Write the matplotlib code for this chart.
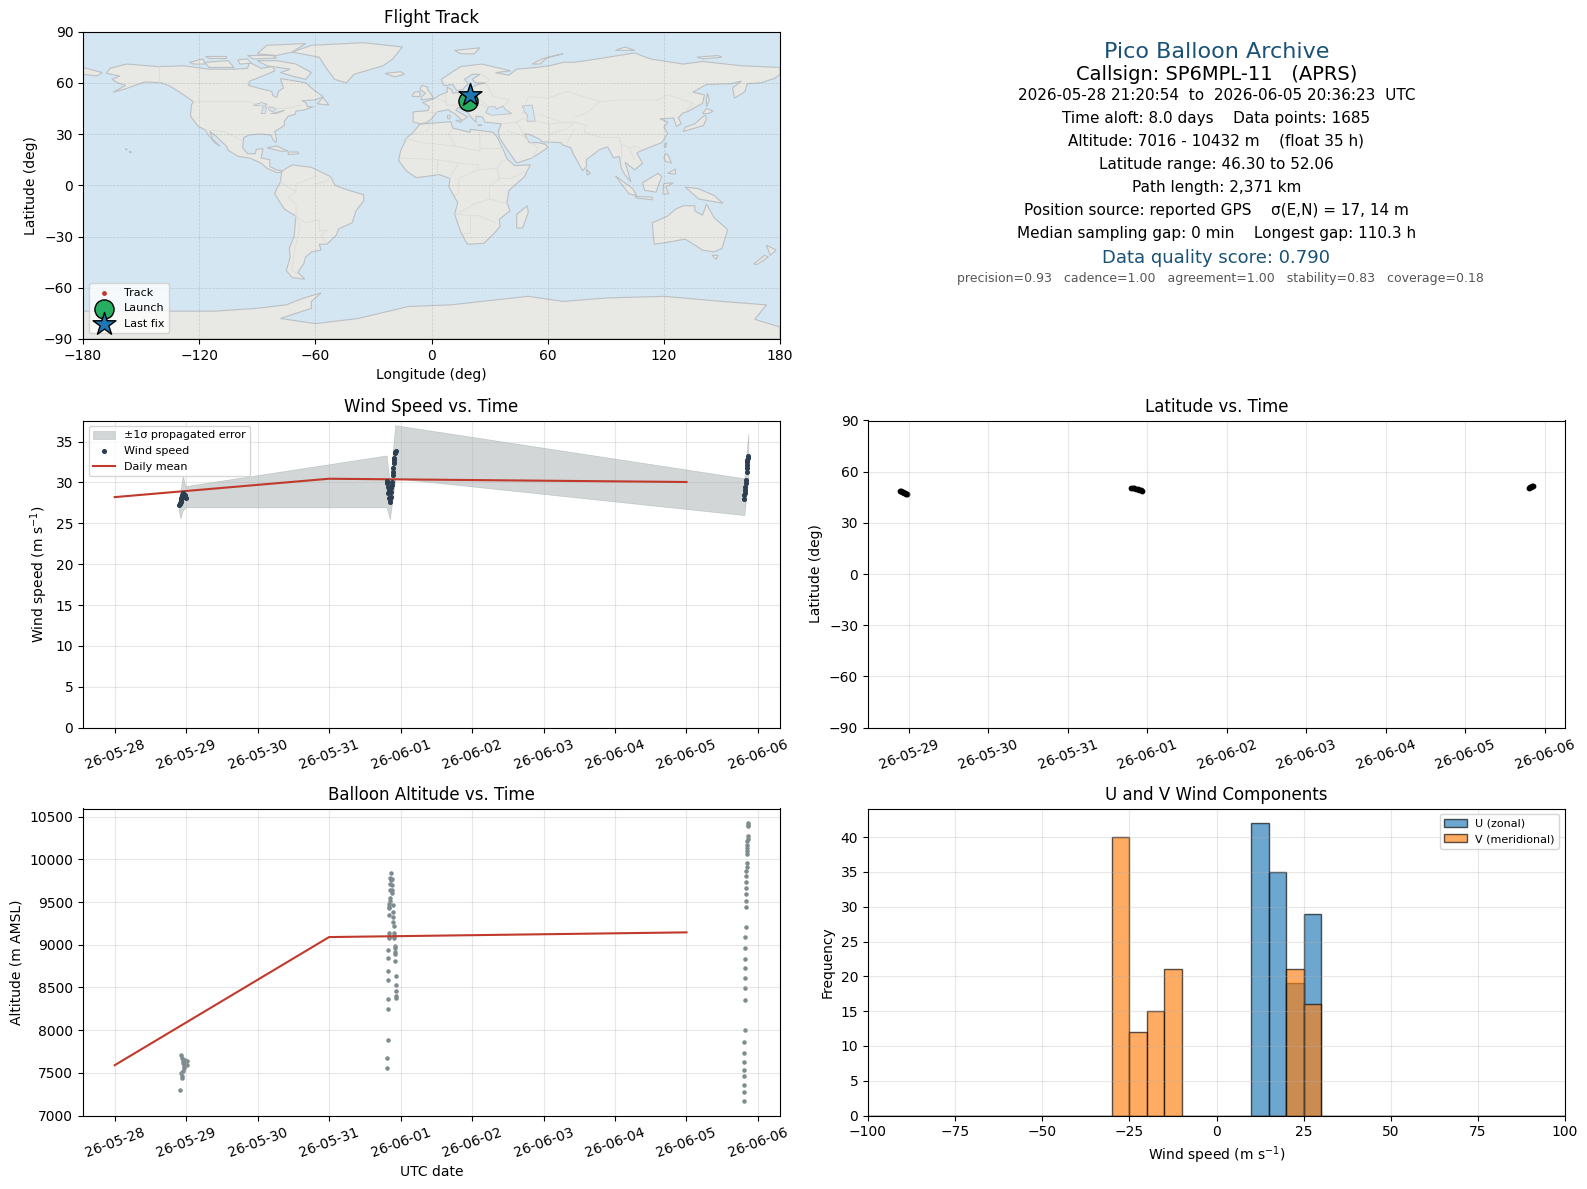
import matplotlib
matplotlib.use('Agg')
import matplotlib.pyplot as plt
import matplotlib.dates as mdates
import numpy as np

# Flight values, times are days after 2026-05-28 00:00 UTC
wind_days = [0.898, 0.907, 0.916, 0.921, 0.925, 0.930, 0.944, 0.949, 0.953, 0.963, 0.977, 1.000,
             3.804, 3.809, 3.818, 3.823, 3.832, 3.841, 3.850, 3.850, 3.864, 3.864, 3.869, 3.874,
             3.878, 3.888, 3.892, 3.897, 3.902, 3.906, 3.911, 3.920, 3.925, 3.930,
             8.800, 8.809, 8.814, 8.818, 8.823, 8.832, 8.837, 8.842, 8.842, 8.846, 8.846, 8.851, 8.860, 8.865]
wind_speed = [27.28, 27.44, 27.36, 27.85, 27.64, 28.05, 28.46, 28.17, 28.66, 28.25, 28.46, 28.13,
              30.16, 29.88, 29.39, 28.66, 29.07, 28.05, 27.64, 27.93, 29.27, 28.86, 28.25, 29.67,
              30.08, 30.89, 31.30, 31.71, 32.32, 32.72, 32.93, 33.54, 33.74, 33.86,
              27.97, 28.46, 28.74, 29.07, 29.47, 29.88, 30.28, 31.30, 31.71, 32.11, 32.52, 32.72, 32.93, 33.21]

band_days = [0.898, 0.921, 0.953, 0.991, 3.804, 3.850, 3.925, 8.809, 8.865]
band_low = [26.5, 25.6, 26.6, 26.95, 26.95, 25.5, 30.5, 26.0, 30.4]
band_high = [28.0, 29.0, 30.8, 29.55, 33.3, 29.8, 37.0, 30.5, 36.0]

mean_days = [0, 3, 8]
mean_wind = [28.2, 30.45, 30.05]
mean_alt = [7590, 9090, 9145]

alt_days = [0.907, 0.930, 0.935, 0.939, 0.930, 0.944, 0.949, 0.953, 0.953, 0.963, 0.967, 0.977, 0.977, 1.009, 1.009,
            3.860, 3.874, 3.851, 3.865, 3.851, 3.879, 3.856, 3.879, 3.874, 3.851, 3.851, 3.837, 3.888, 3.837, 3.837,
            3.832, 3.888, 3.888, 3.888, 3.902, 3.832, 3.832, 3.832, 3.902, 3.902, 3.902, 3.921, 3.921, 3.921, 3.921,
            3.818, 3.818, 3.916, 3.818, 3.930, 3.818, 3.930, 3.930, 3.930, 3.930, 3.818, 3.818, 3.818, 3.804, 3.804,
            8.865, 8.865, 8.865, 8.865, 8.865, 8.851, 8.851, 8.846, 8.846, 8.846, 8.851, 8.851, 8.837, 8.837, 8.837,
            8.837, 8.837, 8.837, 8.837, 8.837, 8.823, 8.823, 8.823, 8.823, 8.823, 8.823, 8.823, 8.823, 8.809, 8.809,
            8.809, 8.809, 8.809, 8.809, 8.809, 8.809]
alt_m = [7294, 7500, 7461, 7442, 7706, 7675, 7519, 7644, 7617, 7578, 7558, 7655, 7597, 7644, 7597,
         9835, 9765, 9777, 9754, 9707, 9695, 9641, 9637, 9606, 9552, 9509, 9474, 9462, 9447, 9431,
         9346, 9381, 9322, 9264, 9218, 9136, 9093, 9078, 9132, 9105, 9078, 8988, 8961, 8915, 8891,
         8938, 8845, 8810, 8693, 8635, 8588, 8530, 8460, 8402, 8378, 8367, 8250, 7889, 7679, 7563,
         10426, 10406, 10387, 10270, 10243, 10212, 10173, 10134, 10096, 10057, 9952, 9905, 9862, 9800, 9730,
         9660, 9590, 9509, 9439, 9206, 9089, 8961, 8833, 8728, 8612, 8495, 8355, 8005, 7866, 7737,
         7632, 7539, 7458, 7364, 7271, 7166]

lat_days = [0.889, 0.902, 0.915, 0.928, 0.941, 0.954, 0.967, 0.980,
            3.800, 3.820, 3.840, 3.860, 3.880, 3.900, 3.920, 3.935,
            8.800, 8.815, 8.830, 8.845, 8.858]
lat_deg = [48.7, 48.4, 48.2, 47.9, 47.7, 47.5, 47.2, 47.0,
           50.6, 50.4, 50.2, 50.0, 49.7, 49.4, 49.2, 48.9,
           50.6, 50.9, 51.1, 51.5, 51.9]

track_lon = [18.4, 18.0, 17.5, 19.0, 19.2]
track_lat = [49.0, 48.0, 50.0, 50.8, 52.0]
launch_lon, launch_lat = 19.0, 49.3
last_lon, last_lat = 19.8, 52.6

hist_left = np.arange(-100, 100, 5)
u_counts = {10: 42, 15: 35, 20: 19, 25: 29}
v_counts = {-30: 40, -25: 12, -20: 15, -15: 21, 20: 21, 25: 16}

info_lines = ['2026-05-28 21:20:54  to  2026-06-05 20:36:23  UTC',
              'Time aloft: 8.0 days    Data points: 1685',
              'Altitude: 7016 - 10432 m    (float 35 h)',
              'Latitude range: 46.30 to 52.06',
              'Path length: 2,371 km',
              'Position source: reported GPS    \u03c3(E,N) = 17, 14 m',
              'Median sampling gap: 0 min    Longest gap: 110.3 h']
score_line = 'Data quality score: 0.790'
sub_score = 'precision=0.93   cadence=1.00   agreement=1.00   stability=0.83   coverage=0.18'

# Rough land outlines (lon, lat)
land = [
    # North America
    [(-168,65.6),(-166,68.5),(-157.5,71),(-141,69.5),(-128,70),(-115,68),(-108,68),(-102,68),(-95,68.5),(-94,72),(-88,68.5),
     (-82,69.5),(-81,67),(-87,64),(-94,61),(-94.5,58.5),(-88,56.5),(-82.5,55),(-82,52.5),(-80,51.5),(-79,55),
     (-76.5,57),(-78,62.5),(-70,61),(-65,60),(-61,56),(-56,52),(-60,50),(-67,49.5),(-65,48.5),(-64,46),(-61,46),
     (-66,44),(-70,43.5),(-70.5,41.5),(-74,40.5),(-76,37.5),(-76,35),(-81,31.5),(-80,27),(-80.5,25),(-82,27),(-83,29.5),
     (-89,30),(-94,29.5),(-97,28),(-97.6,22),(-95,18.5),(-91,18.5),(-90.5,21),(-87,21.5),(-88,16),(-83.5,15),
     (-83.5,11),(-80,9),(-77,8.5),(-78,7.5),(-80,7.5),(-85,10),(-88,13),(-94,16),(-100,17),(-105,20.5),(-106,23),
     (-112,29.5),(-114.5,31.5),(-113,27),(-109.5,23),(-112,25),(-115,29),(-117,32.5),(-120.5,34.5),(-124.5,40.5),(-124,47),
     (-123,49),(-130,54.5),(-135,58),(-139.5,60),(-148,60.5),(-152,59),(-158,56.5),(-164.5,54.5),(-158,58.5),(-162,60),
     (-165,62),(-161,64)],
    # South America
    [(-77,8.5),(-72,12),(-62,10.5),(-52,5),(-50,0),(-44,-2.5),(-35,-5.5),(-35,-9),(-39,-15),(-41,-22),(-48,-25.5),
     (-49,-29),(-54,-34.5),(-58,-34.5),(-57,-38),(-62,-39),(-65,-42),(-66,-46),(-69,-51),(-65.5,-55),(-72,-54),
     (-75,-50),(-73,-42),(-73.5,-37),(-71,-30),(-70,-18),(-76,-14),(-81,-5),(-80,-2),(-78,2),(-77.5,7)],
    # Africa
    [(-6,35.8),(10,37.3),(11,33.5),(20,31),(20,32.8),(32,31),(34,28),(37,21),(39,15.5),(43,11.5),(51,12),(48,5),
     (40,-3),(39,-10),(40.5,-15),(35,-20),(35.5,-24),(32.5,-28),(27,-34),(18.5,-34.5),(15,-27),(12,-17),(13.5,-10),
     (9,-1),(9.5,4),(4,6.3),(-4,5),(-8,4.5),(-13,8.5),(-17,14.5),(-16,20),(-13,27.5),(-9.5,31)],
    # Eurasia
    [(-9.5,37),(-9.5,43),(-2,43.7),(-1,46),(-4.6,48.5),(1,50.5),(4,52.7),(8.2,54.6),(8,57.5),(10.5,56),(11,54),(15,54.3),
     (19,54.5),(21,57.5),(24,59),(28,60),(23,60),(21,62),(25,65),(21,65),(17,62),(19,59.5),(16,56),(13,55.5),(11,59),
     (6.5,58.3),(5,62),(15,69.5),(26,71),(41,67),(33,66),(40,64.5),(44,68),(54,69),(61,70),(68,72),(73,72),(80,73),
     (105,77.5),(113,74),(130,71),(140,72.5),(160,70),(180,69),(180,65),(177,62.5),(170,60),(163,59.5),(162,55),
     (156.5,51),(155.5,57),(160,61),(155,59.5),(142,59),(135,54.5),(141,53),(140,48),(132,43),(130,42.5),(127.5,39.5),
     (129,36),(126.5,34.5),(125,39.5),(121,39),(118,39),(122,37),(120,34),(122,30.5),(119,25),(110,21),(106,19),(109,13),
     (105,9),(100,13.5),(103,2),(100,6),(98,10),(97,17),(94,16),(91,22.5),(87,21),(80,15),(80,11),(78,8.5),(73,19),(72,22),
     (68,23.5),(67,25),(57,25.5),(56,27),(50,30),(48,30),(50.5,25),(55,25),(59,24),(60,22),(52,16),(44,13),(39,21),(35,28),
     (34.5,31.5),(36,36),(27.5,37),(26.5,40),(23,40.5),(23,36.8),(19.5,41),(19,42.5),(13.8,45.6),(12.5,44),(18.5,40),(16,38),
     (12,42),(8.5,44.3),(3,43),(0,39),(-2,37),(-5.5,36)],
    [(-180,69),(-170,66),(-173,64),(-180,65)],
    # Greenland and the Arctic
    [(-72,78),(-62,82),(-35,83.5),(-15,81),(-20,74),(-25,70),(-40,65),(-44,60),(-50,62),(-54,68),(-58,75)],
    [(-80,73),(-70,71),(-62,66),(-65,62),(-72,64),(-78,66),(-73,68),(-85,70),(-90,73)],
    [(-90,77),(-85,82),(-65,83),(-72,78),(-80,76)],
    [(-117,72),(-105,73),(-102,69),(-115,69)],
    [(-125,72),(-118,74),(-117,71),(-123,71)],
    [(-95,76),(-82,76),(-80,74.5),(-92,74)],
    [(-117,76),(-106,76),(-106,74.5),(-115,74.5)],
    [(-100,73.5),(-95,74),(-93,71.5),(-99,71)],
    [(-59,47.7),(-56,51.5),(-53,47)],
    [(-24,65.5),(-16,66.5),(-14,65),(-19,63.5)],
    [(-5.5,50),(1,51),(0,53),(-2,56),(-2,57.5),(-5,58.5),(-6,56),(-3,54),(-5,52)],
    [(-10,52),(-6,52),(-6,55),(-9,54.5)],
    [(12,79),(25,80.5),(22,77),(15,77)],
    [(52,71),(57,74),(68,77),(60,75),(56,71)],
    [(95,79),(105,79),(100,81)],
    [(137,75),(148,76),(150,75),(140,74)],
    # Mediterranean and small islands
    [(8.2,41),(9.7,41),(9.5,39),(8.4,39)],
    [(12.5,38),(15.5,38.2),(15,36.7)],
    [(24,35.5),(26,35.2),(24.5,34.9)],
    [(-158,21.5),(-157,21),(-158,20.8)],
    [(-156,20),(-155,19.5),(-155.8,19)],
    # Asia and Pacific islands
    [(142,46),(143.5,50),(142.5,54),(142,50)],
    [(130,31.5),(131,34),(136,36),(140,40),(141.5,41),(142,39),(140.5,35),(136,33.5)],
    [(140,42),(142,45),(145.5,43.5),(143,42)],
    [(120,23),(121.5,25),(121,22)],
    [(120,16),(121,18.5),(122,18),(124,13),(121,14)],
    [(122,7),(126,9.5),(126,6.5)],
    [(109,1.5),(117,7),(119,5),(117.5,1),(116,-4),(110,-3)],
    [(95,5.5),(104,-2),(106,-6),(102,-5),(98,1)],
    [(105,-6.5),(114,-7),(114,-8.5),(106,-7.5)],
    [(119.5,-5),(120,1),(125,1.5),(121,-1),(122.5,-5)],
    [(131,-1),(138,-2),(146,-6),(150.5,-10.5),(143,-9),(138,-8),(134,-4)],
    [(114,-22),(122,-18),(126,-14),(130,-12),(136,-12),(136,-15),(140,-17.5),(142,-11),(146,-19),(153,-26),(150,-37),
     (146,-39),(140,-38),(136,-35),(131,-31.5),(124,-33),(115,-34.5)],
    [(145,-41),(148,-41),(147,-43.5)],
    [(173,-35),(178,-38),(175,-41)],
    [(172,-41),(174,-42),(168,-46.5),(166.5,-46)],
    [(49.5,-12),(50,-16),(47,-25),(44,-25),(44,-17)],
    [(80,9.5),(82,7),(80.5,6)],
    [(-85,22),(-80,23),(-74,20),(-78,20)],
    [(-74,19.5),(-69,19.5),(-68.5,18.5),(-74,18)],
    # Antarctica
    [(-180,-90),(-180,-73.7),(-112,-73.7),(-90,-72),(-75,-70),(-66,-66),(-57,-63),(-62,-68),(-62,-72),(-78,-78),
     (-60,-81),(-38,-78),(-12,-71),(10,-70),(50,-65),(68,-68),(90,-66),(120,-65),(150,-68),(173,-70),(167,-78.5),
     (180,-83),(180,-90)],
]
lakes = [
    [(28,42.5),(29.5,46),(33,46),(33.5,44.5),(37,46.5),(38,44.5),(41.5,42),(36,41.5),(31,41)],
    [(47,46.5),(52,47),(53,41),(53.6,37.5),(49.5,37.5),(49.5,41),(48,43)],
    [(-92,46.8),(-88,48.5),(-85,47.5),(-86,46.5)],
    [(-88,42),(-86,42),(-85,46),(-87,45.5)],
    [(-84,46),(-80,45),(-82,43),(-84,44)],
    [(-83,42),(-79,43),(-76,44),(-77,43.3),(-80,42)],
]
borders = [
    [(-141,69.7),(-141,60)],[(-123,49),(-95,49),(-83,45),(-75,45),(-67,47)],[(-117,32.5),(-107,31.5),(-97.5,26)],
    [(-70,-18),(-65,-22),(-58,-20),(-58,-27),(-54,-26),(-57,-30),(-54,-34)],[(-70,-18),(-70,-11),(-74,-7),(-70,-4),(-70,1),(-67,2),(-60,5),(-60,8)],
    [(-70,-18),(-68,-24),(-71,-40),(-72,-50),(-69,-52)],[(-52,5),(-55,2),(-60,1)],[(-78,2),(-70,-4)],
    [(-9,30),(-2,32),(-1,35)],[(-13,27.5),(-5,25),(12,23),(25,20),(25,31)],[(25,22),(37,22)],[(-16,16),(3,15),(14,13),(24,12),(24,9),(34,10),(36,14),(39,15)],
    [(12,23),(9,30),(11,33)],[(3,15),(3,6)],[(14,13),(9,4)],[(24,9),(14,4),(14,-5),(12,-6)],[(34,10),(35,4),(41,4),(48,8)],
    [(35,4),(30,-1),(30,-8),(40,-11)],[(22,-11),(13,-17)],[(22,-11),(30,-8)],[(12,-17),(25,-18),(33,-22)],[(20,-18),(20,-28),(17,-28)],
    [(-2,43),(3,43)],[(3,51),(7,49),(8,47),(13,47),(19,46),(24,48),(30,45)],[(7,53),(8,47)],[(14,54),(15,51),(24,51),(23,54)],[(24,51),(30,46)],
    [(28,60),(32,52),(40,50),(38,47)],[(25,65.5),(30,62),(28,60)],[(47,42),(50,52),(60,51),(70,55),(87,49),(98,50),(117,50),(122,53),(135,48),(131,43)],
    [(36,36),(44,37),(48,30)],[(44,37),(47,39),(61,36),(61,25)],[(61,36),(70,37),(74,37),(80,35),(79,31),(88,28),(97,28),(98,24),(102,22),(106,23),(108,21.5)],
    [(61,30),(70,33),(74,37)],[(70,25),(74,33)],[(55,42),(67,37)],[(87,49),(80,42),(74,40)],[(98,24),(98,16)],[(102,22),(105,15)],[(39,32),(47,29),(55,22),(52,16)],
]


def day_nums(days):
    return mdates.date2num(np.datetime64('2026-05-28')) + np.array(days)


def date_axis(ax):
    ax.xaxis.set_major_locator(mdates.DayLocator())
    ax.xaxis.set_major_formatter(mdates.DateFormatter('%y-%m-%d'))
    ax.tick_params(axis='x', labelrotation=20)


def place(fig, x0, x1, y0, y1):
    return fig.add_axes([x0 / W, 1 - y1 / H, (x1 - x0) / W, (y1 - y0) / H])


# layout measured on the reference, in pixels
W, H = 1587, 1189
fig = plt.figure(figsize=(15.87, 11.89), dpi=100)

# Flight track
ax1 = place(fig, 83, 780, 31.6, 339)
ax1.set_facecolor('#d4e6f1')
for poly in land:
    xs, ys = zip(*poly)
    ax1.fill(xs, ys, facecolor='#e8e8e4', edgecolor='#bcc0c3', linewidth=0.8, zorder=1)
for poly in lakes:
    xs, ys = zip(*poly)
    ax1.fill(xs, ys, facecolor='#d4e6f1', edgecolor='#bcc0c3', linewidth=0.6, zorder=1.1)
for line in borders:
    xs, ys = zip(*line)
    ax1.plot(xs, ys, color='#dcdcd8', linewidth=0.6, zorder=1.2)
ax1.grid(True, linestyle='--', linewidth=0.5, color='gray', alpha=0.3)
ax1.scatter(track_lon, track_lat, s=6, color='#c0392b', label='Track', zorder=3)
ax1.scatter([launch_lon], [launch_lat], s=190, color='#27ae60', edgecolor='black', linewidth=1.0, label='Launch', zorder=4)
ax1.scatter([last_lon], [last_lat], s=300, marker='*', color='#1f77b4', edgecolor='black', linewidth=1.0, label='Last fix', zorder=5)
ax1.set_xlim(-180, 180)
ax1.set_ylim(-90, 90)
ax1.set_xticks(np.arange(-180, 181, 60))
ax1.set_yticks(np.arange(-90, 91, 30))
ax1.set_xlabel('Longitude (deg)')
ax1.set_ylabel('Latitude (deg)')
ax1.set_title('Flight Track')
ax1.legend(loc='lower left', fontsize=8)

# Summary text
ax2 = place(fig, 868, 1565, 32, 339)
ax2.axis('off')
ax2.text(0.5, 0.935, 'Pico Balloon Archive', ha='center', va='center', fontsize=16, color='#1a5276')
ax2.text(0.5, 0.863, 'Callsign: SP6MPL-11   (APRS)', ha='center', va='center', fontsize=14)
y_pos = 0.794
for line in info_lines:
    ax2.text(0.5, y_pos, line, ha='center', va='center', fontsize=11)
    y_pos -= 0.0752
ax2.text(0.5, 0.263, score_line, ha='center', va='center', fontsize=13, color='#1a5276')
ax2.text(0.5057, 0.196, sub_score, ha='center', va='center', fontsize=9, color='#555555')

# Wind speed
ax3 = place(fig, 83, 780, 420.5, 727.6)
ax3.fill_between(day_nums(band_days), band_low, band_high, facecolor='#7f8c8d', edgecolor='#7f8c8d', alpha=0.35, linewidth=0.5, label='\u00b11\u03c3 propagated error')
ax3.scatter(day_nums(wind_days), wind_speed, s=7, color='#2c3e50', label='Wind speed', zorder=3)
ax3.plot(day_nums(mean_days), mean_wind, color='#c0392b', linewidth=1.5, label='Daily mean')
ax3.set_ylim(bottom=0)
ax3.set_ylabel('Wind speed (m s$^{-1}$)')
ax3.set_title('Wind Speed vs. Time')
ax3.grid(True, alpha=0.3)
ax3.legend(loc='upper left', fontsize=8)
date_axis(ax3)

# Latitude
ax4 = place(fig, 868, 1565, 420.5, 727.6)
ax4.scatter(day_nums(lat_days), lat_deg, s=10, color='black')
ax4.set_ylim(-90, 90)
ax4.set_yticks(np.arange(-90, 91, 30))
ax4.set_ylabel('Latitude (deg)')
ax4.set_title('Latitude vs. Time')
ax4.grid(True, alpha=0.3)
date_axis(ax4)

# Altitude
ax5 = place(fig, 83, 780, 808.5, 1115.6)
ax5.scatter(day_nums(alt_days), alt_m, s=5, color='#7f8c8d')
ax5.plot(day_nums(mean_days), mean_alt, color='#c0392b', linewidth=1.5)
ax5.set_ylim(7000, 10595)
ax5.set_xlabel('UTC date')
ax5.set_ylabel('Altitude (m AMSL)')
ax5.set_title('Balloon Altitude vs. Time')
ax5.grid(True, alpha=0.3)
date_axis(ax5)

# Wind components
u_heights = [u_counts.get(int(v), 0) for v in hist_left]
v_heights = [v_counts.get(int(v), 0) for v in hist_left]
ax6 = place(fig, 868, 1565, 808.5, 1115.6)
ax6.bar(hist_left, u_heights, width=5, align='edge', alpha=0.65, edgecolor='black', linewidth=1.0, color='C0', label='U (zonal)')
ax6.bar(hist_left, v_heights, width=5, align='edge', alpha=0.65, edgecolor='black', linewidth=1.0, color='C1', label='V (meridional)')
ax6.set_xlim(-100, 100)
ax6.set_xlabel('Wind speed (m s$^{-1}$)')
ax6.set_ylabel('Frequency')
ax6.set_title('U and V Wind Components')
ax6.grid(True, alpha=0.3)
ax6.legend(loc='upper right', fontsize=8)

fig.savefig('out.png', dpi=100)
